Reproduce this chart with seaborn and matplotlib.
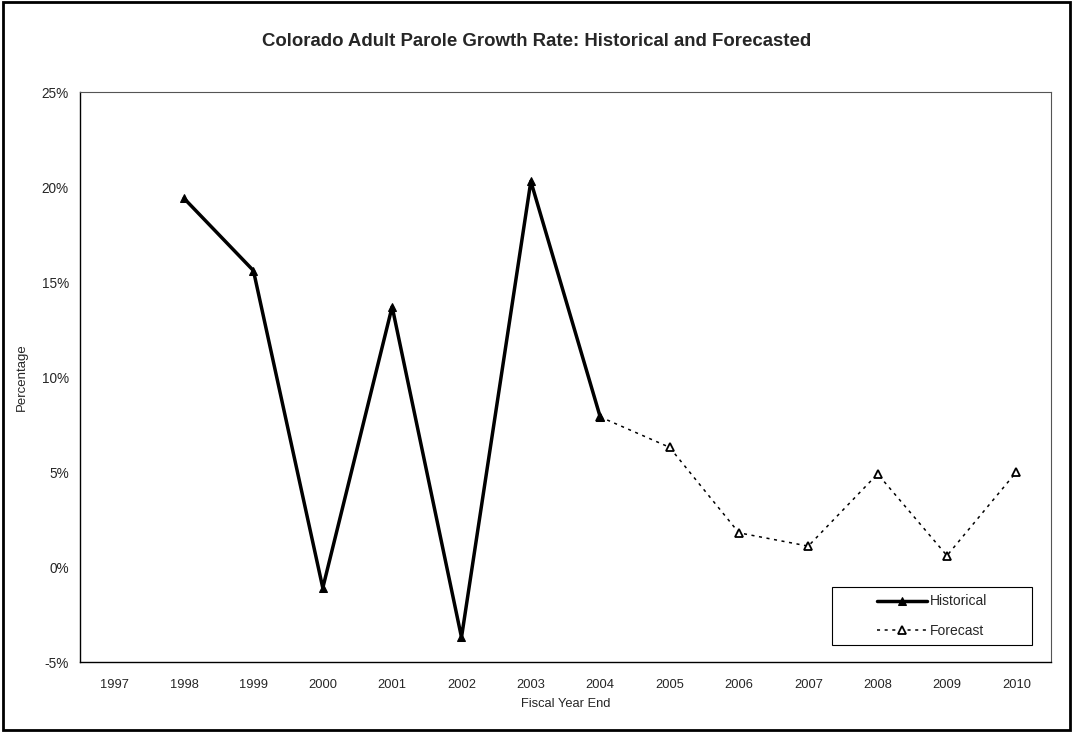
import matplotlib.pyplot as plt
import matplotlib.patches as mpatches
import seaborn as sns
import pandas as pd

years = ['1997', '1998', '1999', '2000', '2001', '2002', '2003',
         '2004', '2005', '2006', '2007', '2008', '2009', '2010']
hist_years = ['1998', '1999', '2000', '2001', '2002', '2003', '2004']
hist_vals = [19.4, 15.6, -1.1, 13.7, -3.7, 20.3, 7.9]
fcst_years = ['2004', '2005', '2006', '2007', '2008', '2009', '2010']
fcst_vals = [7.9, 6.3, 1.8, 1.1, 4.9, 0.6, 5.0]

sns.set_style('white')
plt.rcParams['font.family'] = ['Liberation Sans', 'DejaVu Sans']

pos = {y: i for i, y in enumerate(years)}
df_h = pd.DataFrame({'x': [pos[y] for y in hist_years], 'y': hist_vals})
df_f = pd.DataFrame({'x': [pos[y] for y in fcst_years], 'y': fcst_vals})

fig = plt.figure(figsize=(10.73, 7.32), dpi=100)
ax = fig.add_axes([0.0746, 0.0956, 0.9049, 0.7787])

sns.lineplot(data=df_f, x='x', y='y', ax=ax, color='black', linewidth=1.1,
             linestyle=(0, (2, 3)), marker='^', markersize=6,
             markerfacecolor='white', markeredgecolor='black',
             markeredgewidth=1.3, label='Forecast')
sns.lineplot(data=df_h, x='x', y='y', ax=ax, color='black', linewidth=2.5,
             marker='^', markersize=6, markerfacecolor='black',
             markeredgecolor='black', label='Historical')

ax.set_xlim(-0.5, len(years) - 0.5)
ax.set_ylim(-5, 25)
ax.set_yticks(range(-5, 26, 5))
ax.set_yticklabels([f'{v}%' for v in range(-5, 26, 5)], fontsize=9.8)
ax.set_xticks(range(len(years)))
ax.set_xticklabels(years, fontsize=9.3)
ax.set_xticks([i - 0.5 for i in range(len(years) + 1)], minor=True)
ax.tick_params(axis='x', which='major', length=0, pad=12)
ax.tick_params(axis='x', which='minor', length=4, direction='out', color='black')
ax.tick_params(axis='y', length=4, direction='out', color='black', pad=4)

for s in ['left', 'bottom']:
    ax.spines[s].set_color('black')
    ax.spines[s].set_linewidth(1)
for s in ['top', 'right']:
    ax.spines[s].set_color('#555555')
    ax.spines[s].set_linewidth(0.8)

ax.set_xlabel('Fiscal Year End', fontsize=9.3, labelpad=5)
ax.set_ylabel('Percentage', fontsize=9.5, labelpad=10)
fig.suptitle('Colorado Adult Parole Growth Rate: Historical and Forecasted',
             fontsize=13.4, fontweight='bold', y=0.955)

# legend frame drawn separately (Excel-style box wider than its content)
ax.add_patch(mpatches.Rectangle((0.7745, 0.0298), 0.206, 0.1018,
                                transform=ax.transAxes, facecolor='white',
                                edgecolor='black', linewidth=0.8, zorder=4))
handles, labels = ax.get_legend_handles_labels()
order = [labels.index('Historical'), labels.index('Forecast')]
leg = ax.legend([handles[i] for i in order], [labels[i] for i in order],
                loc='center', bbox_to_anchor=(0.878, 0.0807), fontsize=10,
                frameon=False, labelspacing=1.1, handlelength=3.6,
                handletextpad=0.2, borderaxespad=0, borderpad=0)
leg.set_zorder(5)

fig.patches.append(mpatches.Rectangle((0.003, 0.003), 0.994, 0.994,
                                      transform=fig.transFigure, fill=False,
                                      edgecolor='black', linewidth=2))

fig.savefig('out.png', dpi=100)
